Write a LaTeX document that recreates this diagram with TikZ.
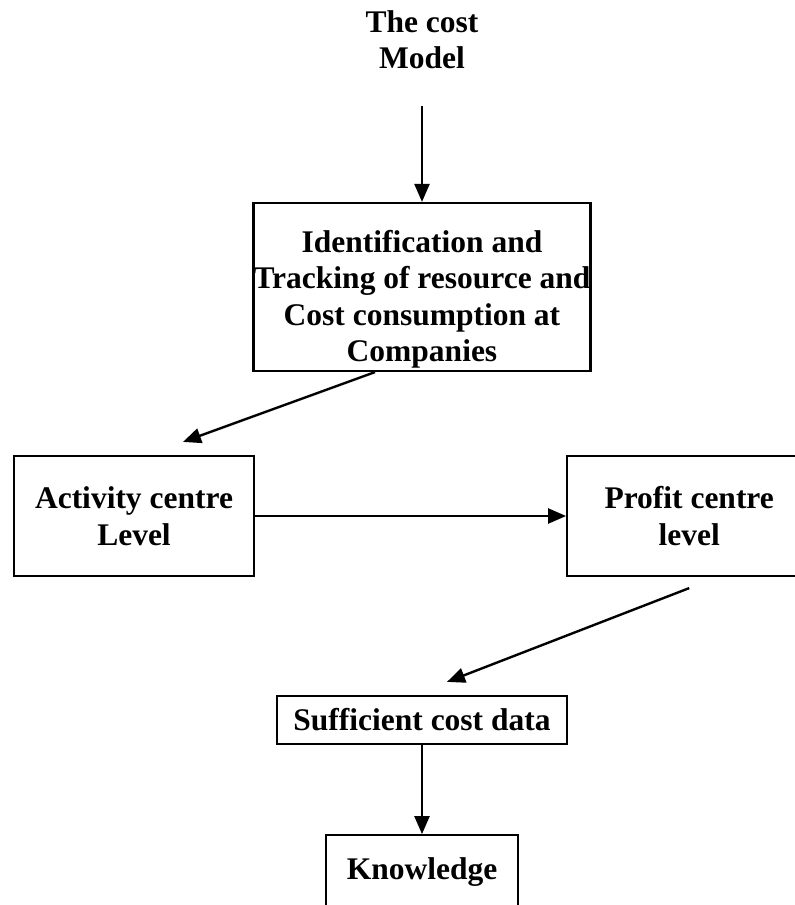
\documentclass[tikz,border=0pt]{standalone}
\usepackage{fontspec}
\setmainfont{Liberation Serif}
\usetikzlibrary{arrows.meta, positioning}

\begin{document}
\begin{tikzpicture}[
    x=1pt, y=1pt,
    node distance=89pt and 311pt,
    lbl/.style={font=\bfseries\fontsize{31.5}{36.5}\selectfont, align=center, inner sep=0pt},
    box/.style={rectangle, draw, line width=2.2pt, lbl},
    arr/.style={-{Triangle[length=18pt, width=15pt]}, line width=2.4pt}
  ]
  \useasboundingbox (0,0) rectangle (795,-905);
  \clip (0,0) rectangle (795,-905);
  \node[lbl] (model) at (422,-39.5) {The cost\\Model};
  \node[box, minimum width=337pt, minimum height=168pt] (ident) at (422,-287) {};
  \node[lbl] (identtext) at (422,-299.5) {Identification and\\Tracking of resource and\\Cost consumption at\\Companies};
  \node[box, minimum width=240pt, minimum height=120pt] (activity) at (134,-516) {Activity centre\\Level};
  \node[box, minimum width=244pt, minimum height=120pt, right=of activity] (profit) {Profit centre\\level};
  \node[box, minimum width=290pt, minimum height=48pt] (suff) at (422,-720) {Sufficient cost data};
  \node[box, minimum width=192pt, minimum height=74pt, below=of suff] (know) {Knowledge};
  \draw[arr, shorten <=37pt] (model.south) -- (ident.north);
  \draw[arr] ([xshift=-47pt]ident.south) -- ([xshift=49pt, yshift=13pt]activity.north);
  \draw[arr] (activity.east) -- (profit.west);
  \draw[arr] ([yshift=-11pt]profit.south) -- ([xshift=25pt, yshift=13pt]suff.north);
  \draw[arr] (suff.south) -- (know.north);
\end{tikzpicture}
\end{document}
